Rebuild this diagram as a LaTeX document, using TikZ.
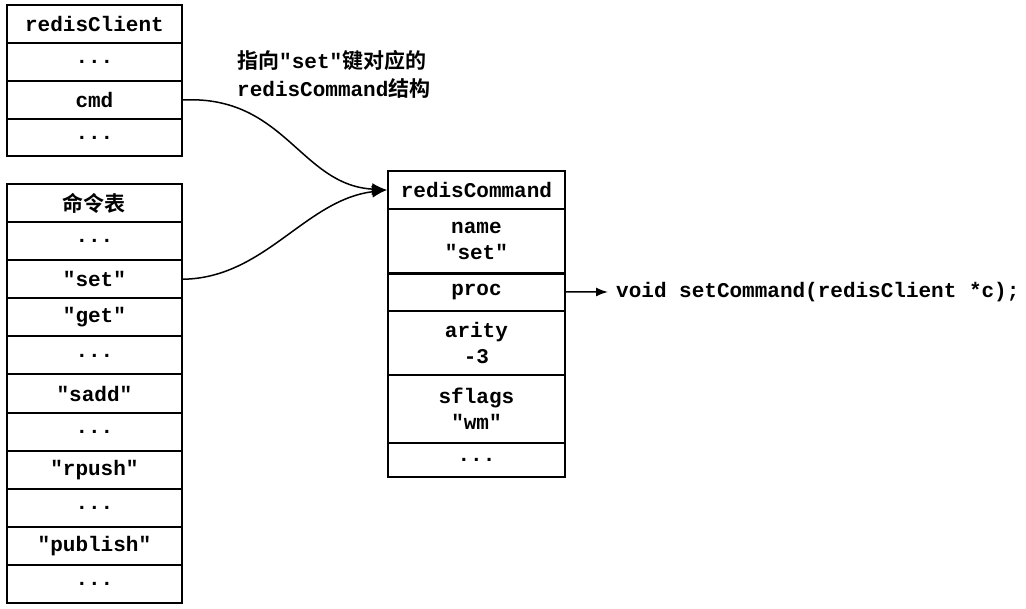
\documentclass[tikz,border=0pt]{standalone}
\usepackage{fontspec}
\setmonofont{Liberation Mono}
\newfontfamily\cjk{Noto Sans CJK SC}[BoldFont={* Bold}]
\usetikzlibrary{arrows.meta}
\begin{document}
\begin{tikzpicture}[x=1pt,y=-1pt,
  cell/.style={draw,line width=1.9pt,rectangle,inner sep=0pt,anchor=north west,
    font=\fontsize{21}{26}\selectfont\ttfamily\bfseries,align=center},
  lcell/.style={cell,minimum width=175pt,minimum height=38.2pt},
  lnk/.style={line width=1.5pt,-{Latex[length=15pt,width=12pt]}},
  lab/.style={font=\fontsize{21}{28}\selectfont\ttfamily\bfseries,align=left,inner sep=0pt}]
\useasboundingbox (0,0) rectangle (1026,609);
% redisClient
\node[cell,minimum width=175pt,minimum height=38pt] (rc0) at (6,4) {redisClient};
\node[cell,minimum width=175pt,minimum height=38pt] (rc1) at (6,42) {...};
\node[cell,minimum width=175pt,minimum height=38pt] (rc2) at (6,80) {cmd};
\node[cell,minimum width=175pt,minimum height=37pt] (rc3) at (6,118) {...};
% command table
\node[lcell] (ct0) at (6,183.0) {\cjk\bfseries 命令表};
\node[lcell] (ct1) at (6,221.1) {...};
\node[lcell] (ct2) at (6,259.2) {"set"};
\node[lcell] (ct3) at (6,297.3) {"get"};
\node[lcell] (ct4) at (6,335.4) {...};
\node[lcell] (ct5) at (6,373.5) {"sadd"};
\node[lcell] (ct6) at (6,411.6) {...};
\node[lcell] (ct7) at (6,449.7) {"rpush"};
\node[lcell] (ct8) at (6,487.8) {...};
\node[lcell] (ct9) at (6,525.9) {"publish"};
\node[lcell] (ct10) at (6,564.0) {...};
% redisCommand
\node[cell,minimum width=177pt,minimum height=38pt] (cm0) at (387,170) {redisCommand};
\node[cell,minimum width=177pt,minimum height=65pt] (cm1) at (387,208) {name\\"set"};
\node[cell,minimum width=177pt,minimum height=38pt] (cm2) at (387,272) {proc};
\node[cell,minimum width=177pt,minimum height=64pt] (cm3) at (387,310) {arity\\-3};
\node[cell,minimum width=177pt,minimum height=68pt] (cm4) at (387,374) {sflags\\"wm"};
\node[cell,minimum width=177pt,minimum height=34pt] (cm5) at (387,442) {...};
% annotation
\node[lab,anchor=north west] (note) at (237,50) {{\cjk\bfseries 指向}"set"{\cjk\bfseries 键对应的}\\redisCommand{\cjk\bfseries 结构}};
% function
\node[lab,anchor=west] (fn) at (616,292) {void setCommand(redisClient *c);};
% arrows
\draw[lnk] (rc2.east) .. controls (285,95) and (300,185) .. (cm0.west);
\draw[lnk] (ct2.east) .. controls (265,278) and (305,200) .. (cm0.west);
\draw[line width=1.5pt,-{Latex[length=12pt,width=9pt]},shorten >=8pt] (cm2.east) -- (fn.west);
\end{tikzpicture}
\end{document}
